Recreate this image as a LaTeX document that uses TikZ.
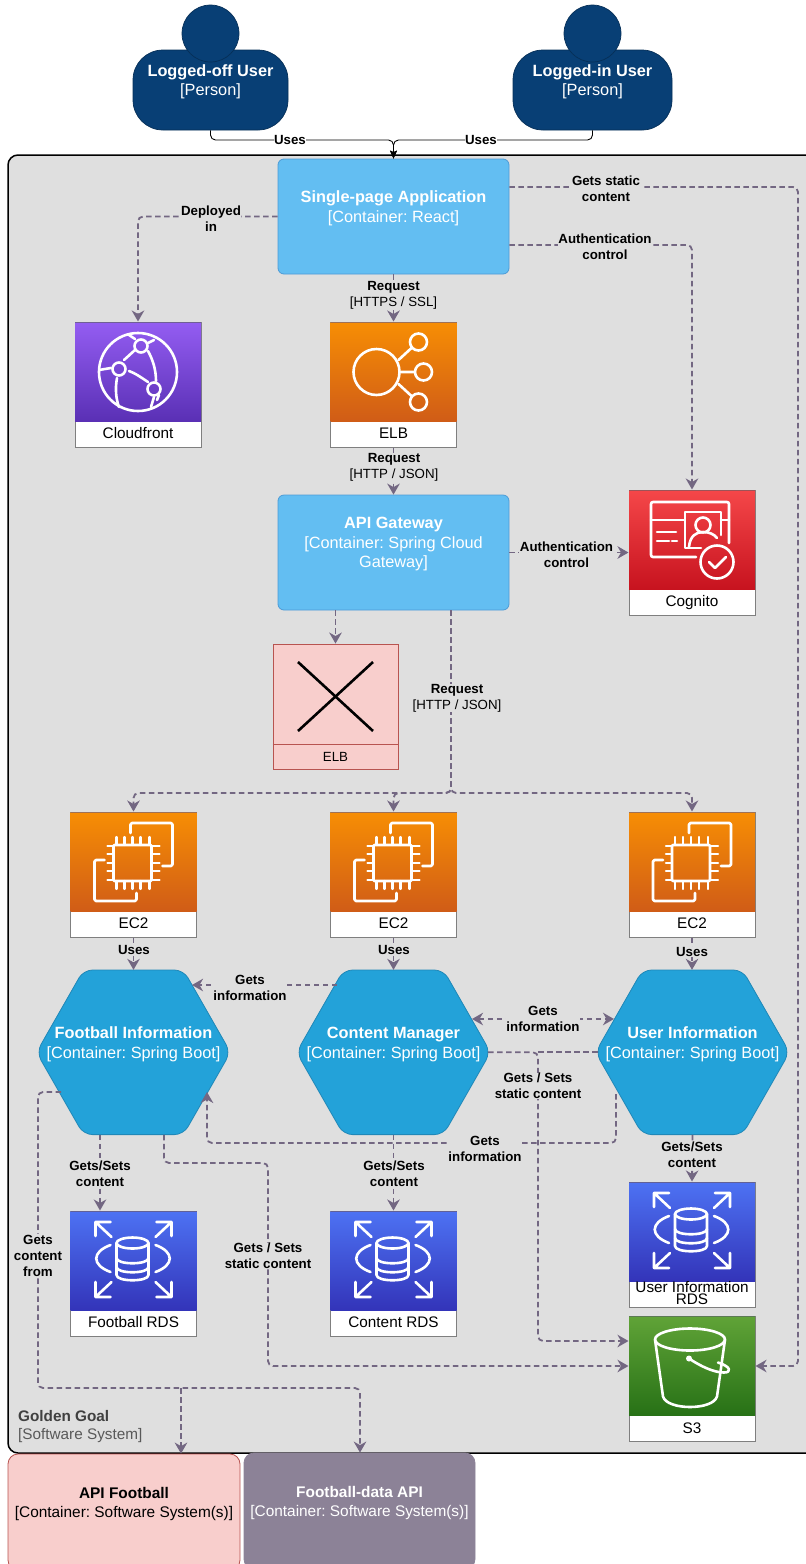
\documentclass[tikz,border=0pt]{standalone}
\usepackage{fontspec}
\setmainfont{Liberation Sans}
\usetikzlibrary{arrows.meta}
\AtBeginDocument{\frenchspacing}
\definecolor{bgc}{HTML}{DFDFDF}
\definecolor{personc}{HTML}{083F75}
\definecolor{personl}{HTML}{062F57}
\definecolor{contc}{HTML}{63BEF2}
\definecolor{contl}{HTML}{4D9BD6}
\definecolor{hexc}{HTML}{23A2D9}
\definecolor{hexl}{HTML}{2088B8}
\definecolor{depc}{HTML}{736782}
\definecolor{tilel}{HTML}{7F7F7F}
\definecolor{pinkc}{HTML}{F8CECC}
\definecolor{pinkl}{HTML}{B85450}
\definecolor{mauvec}{HTML}{8C8297}
\definecolor{sysc}{HTML}{404040}
\definecolor{sysd}{HTML}{595959}
\definecolor{cf1}{HTML}{945DF2}
\definecolor{cf2}{HTML}{5A30B5}
\definecolor{or1}{HTML}{F78E04}
\definecolor{or2}{HTML}{D05C17}
\definecolor{cg1}{HTML}{F54749}
\definecolor{cg2}{HTML}{C7131F}
\definecolor{rd1}{HTML}{4D72F3}
\definecolor{rd2}{HTML}{3334B9}
\definecolor{s31}{HTML}{60A337}
\definecolor{s32}{HTML}{277116}
\newcommand\bigfont{\fontsize{16.3}{19.6}\selectfont}
\newcommand\extfont{\fontsize{15.4}{18.6}\selectfont}
\newcommand\lblfont{\fontsize{13.3}{16}\selectfont}
\newcommand\tilefont{\fontsize{15.3}{18}\selectfont}
\tikzset{
  boundarybox/.style={draw=black,line width=1.5pt,fill=bgc,rounded corners=10pt,minimum width=840pt,minimum height=1298pt,inner sep=0pt},
  personbody/.style={draw=personl,line width=.7pt,fill=personc,rounded corners=30pt,minimum height=80pt,text=white,align=center,font=\bigfont,inner sep=0pt},
  personhead/.style={draw=personl,line width=.7pt,fill=personc,circle,minimum size=57pt,inner sep=0pt},
  contbox/.style={draw=contl,line width=.8pt,fill=contc,rounded corners=6pt,minimum width=231pt,minimum height=115pt,text=white,align=center,font=\bigfont,inner sep=0pt},
  hexbox/.style={minimum width=189pt,minimum height=164.5pt,text=white,align=center,font=\bigfont,inner sep=0pt},
  hexpath/.style={draw=hexl,line width=.8pt,fill=hexc,rounded corners=9pt},
  tilebox/.style={draw=tilel,line width=1pt,fill=white,minimum width=126pt,minimum height=125pt,inner sep=0pt},
  tilelabel/.style={font=\tilefont,text=black,align=center,inner sep=0pt,text height=11pt,text depth=3pt},
  icon/.style={draw=white,line width=2.6pt,line cap=round,line join=round},
  extbox/.style={rounded corners=10pt,minimum width=232pt,minimum height=116pt,align=center,font=\extfont,inner sep=0pt,line width=.8pt},
  dep/.style={draw=depc,line width=1.8pt,dash pattern=on 5.5pt off 3.5pt,rounded corners=5pt,>={Stealth[length=11pt,width=12.5pt,inset=3.5pt]}},
  usesline/.style={draw=black,line width=.9pt,rounded corners=5pt,>={Stealth[length=8pt,width=7pt,inset=1.5pt]}},
  lbl/.style={fill=bgc,font=\lblfont,text=black,align=center,inner sep=.5pt},
  lblw/.style={lbl,fill=white},
}
% name, left, top, gradient top, gradient bottom, label, icon macro
\newcommand\awstile[7]{%
  \node[tilebox] (#1) at (#2+63,#3+62.5) {};
  \shade[top color=#4,bottom color=#5] (#2,#3) rectangle (#2+126,#3+99);
  \draw[tilel!60!#5,line width=.8pt] (#2,#3) -- (#2+126,#3);
  \begin{scope}[shift={(#2,#3)}]#7\end{scope}
  \node[tilelabel] (#1-label) at (#2+63,#3+112.5) {#6};
}
\newcommand\hexnode[4]{%
  \draw[hexpath] (#2-97,#3) -- (#2-50,#3-82.3) -- (#2+50,#3-82.3) -- (#2+97,#3) -- (#2+50,#3+82.3) -- (#2-50,#3+82.3) -- cycle;
  \node[hexbox] (#1) at (#2,#3) {#4};
}
\newcommand\iconfront{%
  \draw[icon] (63,50) circle[radius=39pt];
  \draw[icon] (66,24) circle[radius=6.5pt] (44,47) circle[radius=6.5pt] (79,67) circle[radius=6.5pt];
  \draw[icon] (49,38) -- (60,28) (54,13) -- (60,17) (73,21) -- (79,18) (24,48) -- (36,46) (54,49) .. controls (60,51) and (67,56) .. (73,60);
  \draw[icon] (73,29) .. controls (78,38) and (81,48) .. (81,59);
  \draw[icon] (42,56) .. controls (40,67) and (41,77) .. (44,85);
  \draw[icon] (79,75) -- (76,85) (84,73) -- (82,78);
}
\newcommand\iconelb{%
  \draw[icon] (46,50) circle[radius=23pt] (88,20) circle[radius=8.5pt] (93,50) circle[radius=8.5pt] (88,80) circle[radius=8.5pt];
  \draw[icon] (68,38) -- (81,26) (70,50) -- (84,50) (68,62) -- (81,74);
}
\newcommand\iconcognito{%
  \draw[icon,rounded corners=2pt] (67,67) -- (22,67) -- (22,12) -- (100,12) -- (100,53);
  \draw[icon] (22,30) -- (55,30) (92,30) -- (100,30);
  \draw[icon] (72,58) -- (56,58) -- (56,22) -- (92,22) -- (92,45);
  \draw[icon] (74,35) circle[radius=7.5pt];
  \draw[icon] (60,57) .. controls (61,46) and (67,42) .. (74,42) .. controls (80,42) and (85,44) .. (88,48);
  \draw[icon] (28,42) -- (47,42) (28,51) -- (40,51) (43,51) -- (48,51);
  \draw[icon] (88,72) circle[radius=16.5pt];
  \draw[icon] (80,72) -- (86,78) -- (97,67);
}
\newcommand\iconectwo{%
  \draw[icon,rounded corners=1pt] (43,33) rectangle (81,69);
  \foreach \p in {46,54,62,70,79} {\draw[icon,line width=2.2pt] (\p,25) -- (\p,33) (\p,69) -- (\p,77);}
  \foreach \p in {34,42,51,59,68} {\draw[icon,line width=2.2pt] (37,\p) -- (43,\p) (81,\p) -- (89,\p);}
  \draw[icon,rounded corners=1.5pt] (60,21) -- (60,11) -- (102,11) -- (102,54) -- (92,54);
  \draw[icon,rounded corners=1.5pt] (34,48) -- (24,48) -- (24,89) -- (66,89) -- (66,81);
}
\newcommand\iconrds{%
  \draw[icon] (62,32) ellipse[x radius=16pt,y radius=5.5pt];
  \draw[icon] (46,32) -- (46,64) .. controls (46,71) and (78,71) .. (78,64) -- (78,32);
  \draw[icon] (46,47) .. controls (46,54) and (78,54) .. (78,47);
  \draw[icon] (46,56) .. controls (46,63) and (78,63) .. (78,56);
  \draw[icon] (40,34) .. controls (21,41) and (21,54) .. (40,61);
  \draw[icon] (85,34) .. controls (104,41) and (104,54) .. (85,61);
  \draw[icon] (40,11) -- (25,11) -- (25,25) (25,11) -- (41,26);
  \draw[icon] (86,11) -- (101,11) -- (101,25) (101,11) -- (85,26);
  \draw[icon] (40,86) -- (25,86) -- (25,71) (25,86) -- (41,71);
  \draw[icon] (86,86) -- (101,86) -- (101,71) (101,86) -- (85,71);
}
\newcommand\iconsthree{%
  \draw[icon] (61,23) ellipse[x radius=35pt,y radius=11pt];
  \draw[icon] (26,23) -- (34,80) .. controls (38,94) and (84,94) .. (88,80) -- (96,23);
  \fill[white] (60,42) circle[radius=3pt];
  \draw[icon] (60,42) .. controls (72,50) and (85,56) .. (95,56) .. controls (103,56) and (102,50) .. (89,46);
}
\begin{document}
\begin{tikzpicture}[x=1pt,y=-1pt]
\useasboundingbox (0,0) rectangle (806,1564);
\clip (0,0) rectangle (806,1564);

% boundary
\node[boundarybox] (boundary) at (428,804) {};
\node[anchor=base west,font=\fontsize{15.3}{18}\selectfont\bfseries,text=sysc,inner sep=0pt] (sysname) at (18,1421) {Golden Goal};
\node[anchor=base west,font=\fontsize{15.3}{18}\selectfont,text=sysd,inner sep=0pt] (systype) at (18,1439) {[Software System]};

% persons
\node[personbody,minimum width=155pt] (pa) at (210.5,90) {\textbf{Logged-off User}\\{}[Person]\\~};
\node[personhead] (paHead) at (210.5,33.5) {};
\node[personbody,minimum width=159pt] (pb) at (592.5,90) {\textbf{Logged-in User}\\{}[Person]\\~};
\node[personhead] (pbHead) at (592.5,33.5) {};

% containers
\node[contbox] (spa) at (393.5,216.5) {\textbf{Single-page Application}\\{}[Container: React]\\~};
\node[contbox] (api) at (393.5,552.5) {\textbf{API Gateway}\\{}[Container: Spring Cloud\\Gateway]\\~};

% tiles
\awstile{cloudfront}{75}{322}{cf1}{cf2}{Cloudfront}{\iconfront}
\awstile{elb}{330.5}{322}{or1}{or2}{ELB}{\iconelb}
\awstile{cognito}{629}{490}{cg1}{cg2}{Cognito}{\iconcognito}
\awstile{ecA}{70.5}{812}{or1}{or2}{EC2}{\iconectwo}
\awstile{ecB}{330.5}{812}{or1}{or2}{EC2}{\iconectwo}
\awstile{ecC}{629}{812}{or1}{or2}{EC2}{\iconectwo}
\awstile{rdsA}{70.5}{1211}{rd1}{rd2}{Football RDS}{\iconrds}
\awstile{rdsB}{330.5}{1211}{rd1}{rd2}{Content RDS}{\iconrds}
\awstile{rdsC}{629}{1182}{rd1}{rd2}{}{\iconrds}
\node[font=\fontsize{15.3}{12}\selectfont,text=black,align=center,inner sep=0pt] (rdsC-text) at (692,1293) {User Information\\RDS};
\awstile{sthree}{629}{1316.5}{s31}{s32}{S3}{\iconsthree}

% crossed ELB
\node[draw=pinkl,line width=.9pt,fill=pinkc,minimum width=125pt,minimum height=125pt,inner sep=0pt] (elbx) at (335.5,706.5) {};
\draw[pinkl,line width=.9pt] (elbx.west |- 0,744) -- (elbx.east |- 0,744);
\draw[black,line width=2.6pt] (298,662) -- (373,731) (373,662) -- (298,731);
\node[font=\fontsize{13.3}{16}\selectfont,text=black,inner sep=0pt] (elbx-label) at (335.5,757) {ELB};

% hexagons
\hexnode{fi}{133.5}{1052.3}{\textbf{Football Information}\\{}[Container: Spring Boot]\\~}
\hexnode{cm}{393.5}{1052.3}{\textbf{Content Manager}\\{}[Container: Spring Boot]\\~}
\hexnode{ui}{692.5}{1052.3}{\textbf{User Information}\\{}[Container: Spring Boot]\\~}

% external systems
\node[extbox,draw=pinkl,fill=pinkc,text=black,minimum width=232pt] (apifb) at (124,1512) {\textbf{API Football}\\{}[Container: Software System(s)]\\~};
\node[extbox,draw=mauvec,fill=mauvec,text=white,minimum width=231pt] (fdata) at (359.5,1511) {\textbf{Football-data API}\\{}[Container: Software System(s)]\\~};

% uses
\coordinate (join) at (393.5,140);
\draw[usesline,->] (pa.south) |- (join) -- (spa.north);
\draw[usesline,->] (pb.south) |- (join) -- (spa.north);
\node[lblw] (usesA) at (290,140) {\textbf{Uses}};
\node[lblw] (usesB) at (481,140) {\textbf{Uses}};

% dependency connectors
\draw[dep,->] (spa.west) -| (cloudfront.north);
\draw[dep,->] (spa.south) -- (elb.north);
\draw[dep,->] (spa.east |- 0,187) -- (798,187) -- (798,1366) -- (sthree.east |- 0,1366);
\draw[dep,->] (spa.east |- 0,245) -| (cognito.north);
\draw[dep,->] (elb.south) -- (api.north);
\draw[dep,->] (api.east) -- (cognito.west |- api.east);
\draw[dep,->] (api.south -| elbx.north) -- (elbx.north);
\coordinate (split) at (451,793);
\draw[dep,->] (api.south -| split) -- (split) -| (ecA.north);
\draw[dep,->] (api.south -| split) -- (split) -| (ecB.north);
\draw[dep,->] (api.south -| split) -- (split) -| (ecC.north);
\draw[dep,->] (ecA.south) -- (ecA.south |- fi.north);
\draw[dep,->] (ecB.south) -- (ecB.south |- cm.north);
\draw[dep,->] (ecC.south) -- (ecC.south |- ui.north);
\draw[dep,->] (337,985) -- (192,985);
\draw[dep,<->] (472,1019) -- (614,1019);
\coordinate (cross) at (cm.east -| 538,0);
\draw[dep,->] (cm.east) -- (cross) |- (sthree.west |- 0,1341);
\draw[dep] (ui.west) -- (cross);
\draw[dep,->] (616,1094) -- (616,1143) -- (207,1143) -- (207,1092);
\draw[dep,->] (fi.south -| 100,0) -- (rdsA.north -| 100,0);
\draw[dep,->] (cm.south) -- (rdsB.north);
\draw[dep,->] (ui.south) -- (rdsC.north);
\draw[dep,->] (fi.south -| 164,0) -- (164,1163) -- (268,1163) -- (268,1366) -- (sthree.west |- 0,1366);
\coordinate (apiJoin) at (181,1388);
\draw[dep,->] (61,1092) -- (38,1092) -- (38,1388) -- (360,1388) -- (fdata.north -| 360,0);
\draw[dep,->] (apiJoin) -- (apifb.north -| apiJoin);

% labels
\node[lbl] at (211,218.5) (l1) {\textbf{Deployed}\\\textbf{in}};
\node[lbl] at (393.5,295.5) (l2) {\textbf{Request}\\{}[HTTPS / SSL]};
\node[lbl] at (606,189) (l3) {\textbf{Gets static}\\\textbf{content}};
\node[lbl] at (605,247) (l4) {\textbf{Authentication}\\\textbf{control}};
\node[lbl] at (394,467) (l5) {\textbf{Request}\\{}[HTTP / JSON]};
\node[lbl] at (566.5,554.5) (l6) {\textbf{Authentication}\\\textbf{control}};
\node[lbl] at (457,698) (l7) {\textbf{Request}\\{}[HTTP / JSON]};
\node[lbl] at (134,950) (l8) {\textbf{Uses}};
\node[lbl] at (394,950) (l9) {\textbf{Uses}};
\node[lbl] at (692,952) (l10) {\textbf{Uses}};
\node[lbl] at (250,987.5) (l11) {\textbf{Gets}\\\textbf{information}};
\node[lbl] at (543,1018.5) (l12) {\textbf{Gets}\\\textbf{information}};
\node[lbl] at (538,1086) (l13) {\textbf{Gets / Sets}\\\textbf{static content}};
\node[lbl] at (485,1149) (l14) {\textbf{Gets}\\\textbf{information}};
\node[lbl] at (100,1174) (l15) {\textbf{Gets/Sets}\\\textbf{content}};
\node[lbl] at (394,1174) (l16) {\textbf{Gets/Sets}\\\textbf{content}};
\node[lbl] at (692,1154.5) (l17) {\textbf{Gets/Sets}\\\textbf{content}};
\node[lbl] at (268,1256) (l18) {\textbf{Gets / Sets}\\\textbf{static content}};
\node[lbl] at (38,1255.5) (l19) {\textbf{Gets}\\\textbf{content}\\\textbf{from}};
\end{tikzpicture}
\end{document}
